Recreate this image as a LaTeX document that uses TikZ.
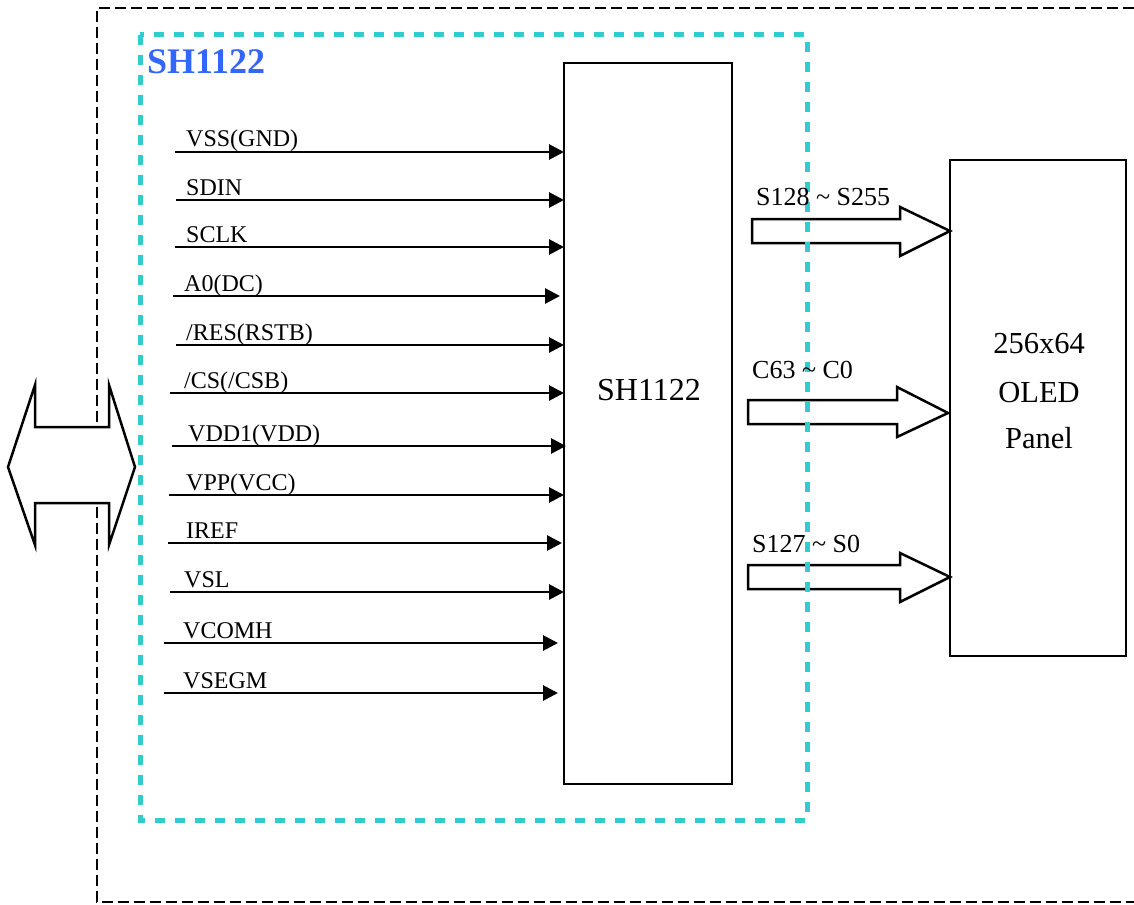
\documentclass[tikz,border=0pt]{standalone}
\usepackage{fontspec}
\setmainfont{Liberation Serif}
\usetikzlibrary{arrows.meta}
\definecolor{cyanbox}{RGB}{51,204,204}
\definecolor{titleblue}{RGB}{51,102,255}
\tikzset{
  boxline/.style={draw=black, line width=2.5pt},
  sig/.style={line width=2.8pt, -{Triangle[length=15pt,width=15pt]}},
  siglabel/.style={anchor=base west, inner sep=0pt, font=\fontsize{24}{28}\selectfont},
  buslabel/.style={anchor=base west, inner sep=0pt, font=\fontsize{26}{30}\selectfont},
  blockarrow/.style={draw=black, line width=2.5pt, fill=white, line join=miter},
  bigtext/.style={anchor=base, inner sep=0pt, font=\fontsize{30.5}{36}\selectfont}
}
\begin{document}
\begin{tikzpicture}[x=1pt,y=-1pt]
\useasboundingbox (0,0) rectangle (1134,904);
% outer dashed frame
\draw[line width=2.3pt, dash pattern=on 11pt off 5pt] (1134,8) -- (97,8) -- (97,902) -- (1134,902);
% left double arrow
\draw[blockarrow] (8,467) -- (35,385) -- (35,427) -- (109,427) -- (109,385) -- (135,467)
  -- (109,545) -- (109,503) -- (35,503) -- (35,545) -- cycle;
% block arrows to the panel
\draw[blockarrow] (752,219) -- (900,219) -- (900,207) -- (950,231) -- (900,256) -- (900,243) -- (752,243) -- cycle;
\draw[blockarrow] (748,400) -- (897,400) -- (897,387) -- (948,413) -- (897,437) -- (897,424) -- (748,424) -- cycle;
\draw[blockarrow] (748,565) -- (900,565) -- (900,553) -- (950,577) -- (900,602) -- (900,589) -- (748,589) -- cycle;
% cyan dashed box
\draw[cyanbox, line width=5pt, dash pattern=on 10pt off 10pt] (140,35) rectangle (807,820);
\node[anchor=base west, inner sep=0pt, text=titleblue, font=\fontsize{36}{40}\selectfont\bfseries] (title) at (147,74) {SH1122};
% chip
\node[boxline, minimum width=168pt, minimum height=721pt, inner sep=0pt] (chip) at (648,423.5) {};
\node[bigtext, font=\fontsize{32}{36}\selectfont] (chiplabel) at (649,400) {SH1122};
% panel
\node[boxline, minimum width=176pt, minimum height=496pt, inner sep=0pt] (panel) at (1038,408) {};
\node[bigtext] (p1) at (1039,353) {256x64};
\node[bigtext] (p2) at (1039,402) {OLED};
\node[bigtext] (p3) at (1039,448) {Panel};
% arrow labels
\node[buslabel] (a1) at (756,205) {S128 \textasciitilde{} S255};
\node[buslabel] (a2) at (752,378) {C63 \textasciitilde{} C0};
\node[buslabel] (a3) at (752,552) {S127 \textasciitilde{} S0};
% signals
\foreach \n/\yy/\xs/\xe/\xl/\txt in {
  1/152/175/564/186/{VSS(GND)},
  2/200/176/564/186/{SDIN},
  3/247/175/564/186/{SCLK},
  4/296/173/560/184/{A0(DC)},
  5/345/176/564/186/{/RES(RSTB)},
  6/393/170/564/184/{/CS(/CSB)},
  7/446/172/566/188/{VDD1(VDD)},
  8/495/169/564/186/{VPP(VCC)},
  9/543/168/562/186/{IREF},
  10/592/170/564/184/{VSL},
  11/643/164/558/183/{VCOMH},
  12/693/164/558/183/{VSEGM}}{
  \coordinate (s\n) at (\xs,\yy);
  \coordinate (e\n) at (\xe,\yy);
  \draw[sig] (s\n) -- (e\n);
  \node[siglabel] (l\n) at (\xl,\yy-5) {\txt};
}
\end{tikzpicture}
\end{document}
